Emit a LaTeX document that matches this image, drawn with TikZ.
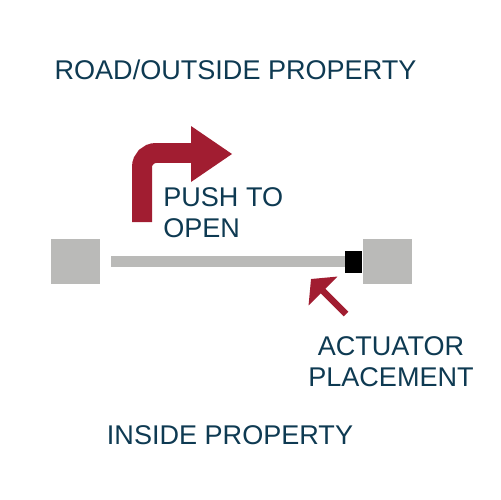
\documentclass[tikz,border=0pt]{standalone}
\usepackage{fontspec}
\setmainfont{Liberation Sans}
\usetikzlibrary{arrows.meta}
\definecolor{navy}{HTML}{0E3A52}
\definecolor{gatered}{HTML}{A11D31}
\definecolor{postgray}{HTML}{BABAB8}

\begin{document}
\begin{tikzpicture}[x=0.02cm, y=-0.02cm,
	post/.style={fill=postgray, inner sep=0, minimum width=0.98cm, minimum height=0.9cm},
	caption/.style={text=navy, inner sep=0, font=\fontsize{15.4}{18}\selectfont}]
	\useasboundingbox (0,0) rectangle (500,500);

	% Posts, gate bar and actuator
	\node[post] (left post) at (75.5, 261.5) {};
	\node[post] (right post) at (387.5, 261.5) {};
	\node[fill=black, inner sep=0, minimum width=0.34cm, minimum height=0.44cm, anchor=east] (actuator) at (right post.west) {};
	\node[fill=postgray, inner sep=0, minimum width=4.68cm, minimum height=0.22cm, anchor=east] (gate bar) at (actuator.west) {};

	% Bent arrow for the opening direction
	\draw[gatered, line width=0.4cm, rounded corners=0.28cm] (142,222) -- (142,153) -- (192,153);
	\fill[gatered] (191,126) -- (232,154) -- (191,182) -- cycle;

	% Small arrow to the actuator
	\coordinate (pointer tail) at (346,314);
	\coordinate (pointer tip) at (311,279);
	\draw[gatered, line width=0.13cm, -{Triangle[length=0.34cm, width=0.8cm]}] (pointer tail) -- (pointer tip);

	% Labels
	\node[caption, anchor=base] (road label) at (235.5, 80) {ROAD/OUTSIDE PROPERTY};
	\node[caption, anchor=north west, align=left] (push label) at (163, 187) {PUSH TO\\OPEN};
	\node[caption, anchor=north, align=center] (actuator label) at (391, 336) {ACTUATOR\\PLACEMENT};
	\node[caption, anchor=base] (inside label) at (230, 444) {INSIDE PROPERTY};
\end{tikzpicture}
\end{document}
